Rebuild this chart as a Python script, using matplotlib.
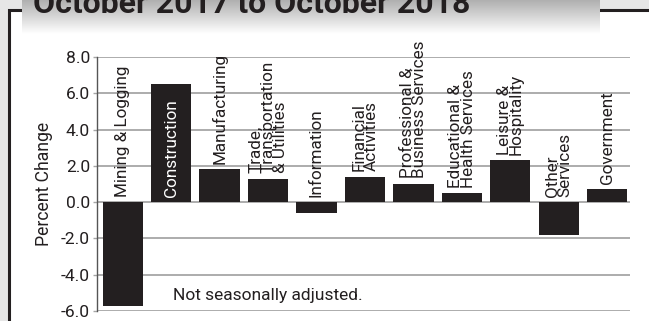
import matplotlib.pyplot as plt
import numpy as np
from matplotlib.patches import Rectangle

plt.rcParams['font.family'] = ['Roboto', 'DejaVu Sans']

# over-the-year change by industry, percent
industries = ['Mining & Logging', 'Construction', 'Manufacturing',
              'Trade,\nTransportation\n& Utilities', 'Information',
              'Financial\nActivities', 'Professional &\nBusiness Services',
              'Educational &\nHealth Services', 'Leisure &\nHospitality',
              'Other\nServices', 'Government']
pct_change = [-5.7, 6.5, 1.8, 1.3, -0.6, 1.4, 1.0, 0.5, 2.3, -1.8, 0.7]
y_ticks = [-6.0, -4.0, -2.0, 0.0, 2.0, 4.0, 6.0, 8.0]

title = 'October 2017 to October 2018'
note = 'Not seasonally adjusted.'

W, H = 649, 321
fig = plt.figure(figsize=(W / 100, H / 100), dpi=100)
fig.patch.set_facecolor('#e6e6e6')

# background panel in pixel units: white box with dark frame, gradient title strip
bg = fig.add_axes([0, 0, 1, 1])
bg.set_xlim(0, W)
bg.set_ylim(H, 0)
bg.axis('off')
bg.add_patch(Rectangle((9, 10), W, H, facecolor='white', edgecolor='#231f20', lw=2.2))
grad = np.linspace(0, 1, 64).reshape(-1, 1)
bg.imshow(grad, cmap='gray', vmin=-2.2, vmax=1.0, extent=(22, 600, 34, 0),
          aspect='auto', zorder=3)
bg.text(33, 13, title, fontsize=23, fontweight='bold', color='#231f20',
        ha='left', va='baseline', zorder=4)

ax = fig.add_axes([97 / W, 10 / H, 533 / W, 254 / H])
ax.set_facecolor('none')
x = np.arange(len(industries))
ax.bar(x, pct_change, width=0.83, color='#231f20', zorder=3)

for xi, v, lab in zip(x, pct_change, industries):
    if v > 5:
        # tall bar: label sits inside in white
        ax.annotate(lab, (xi, 0), xytext=(0, 4), textcoords='offset points',
                    rotation=90, ha='center', va='bottom', color='white',
                    fontsize=12.3, zorder=4)
    else:
        ax.annotate(lab, (xi, max(v, 0)), xytext=(0, 4), textcoords='offset points',
                    rotation=90, ha='center', va='bottom', multialignment='left',
                    linespacing=0.8, color='#231f20', fontsize=12.3, zorder=4)

ax.set_xlim(-0.53, len(industries) - 0.53)
ax.set_ylim(-6, 8)
ax.set_yticks(y_ticks)
ax.set_yticklabels(['%.1f' % t for t in y_ticks], fontsize=12.5, color='#231f20')
ax.set_xticks([])
ax.yaxis.grid(True, color='#a6a6a6', lw=1.3, zorder=1)
ax.set_axisbelow(True)
for s in ['top', 'right', 'bottom']:
    ax.spines[s].set_visible(False)
ax.spines['left'].set_color('#555555')
ax.spines['left'].set_linewidth(1)
ax.tick_params(axis='y', length=3, width=1, color='#a6a6a6', pad=2)
ax.set_ylabel('Percent Change', fontsize=12.7, color='#231f20', labelpad=6)

ax.text(1.04, -5.13, note, fontsize=12.5, color='#231f20', ha='left', va='center')

fig.savefig('out.png', dpi=100, facecolor=fig.get_facecolor())
